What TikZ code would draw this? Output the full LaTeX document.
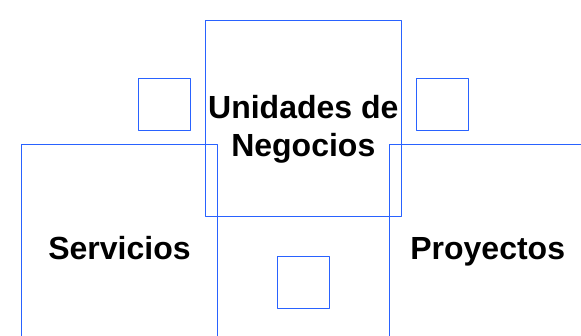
\documentclass[tikz,border=0pt]{standalone}
\usepackage{fontspec}
\setmainfont{Liberation Sans}
\definecolor{boxblue}{RGB}{41,98,255}
\begin{document}
\begin{tikzpicture}[x=1pt,y=-1pt,line cap=round,line join=round,
		sq/.style={draw=boxblue,line width=1pt,inner sep=0pt},
		lbl/.style={font=\bfseries\fontsize{32}{38}\selectfont,inner sep=0pt,align=center}]
			\useasboundingbox (0,0) rectangle (581,336);
			% big squares
			\node[sq,minimum size=196] (unidades) at (303.3,118.7) {};
			\node[sq,minimum size=196] (servicios) at (119.5,243) {};
			\node[sq,minimum size=196] (proyectos) at (487.7,243) {};
			% small squares
			\node[sq,minimum size=52] (sqleft) at (164.7,104.5) {};
			\node[sq,minimum size=52] (sqright) at (442,104.5) {};
			\node[sq,minimum size=52] (sqbottom) at (303.3,283) {};
			% labels
			\node[lbl] (tunidades) at (303.3,129.3) {Unidades de\\Negocios};
			\node[lbl,anchor=base] (tservicios) at (119.5,260) {Servicios};
			\node[lbl,anchor=base] (tproyectos) at (487.7,260) {Proyectos};
		\end{tikzpicture}
\end{document}
